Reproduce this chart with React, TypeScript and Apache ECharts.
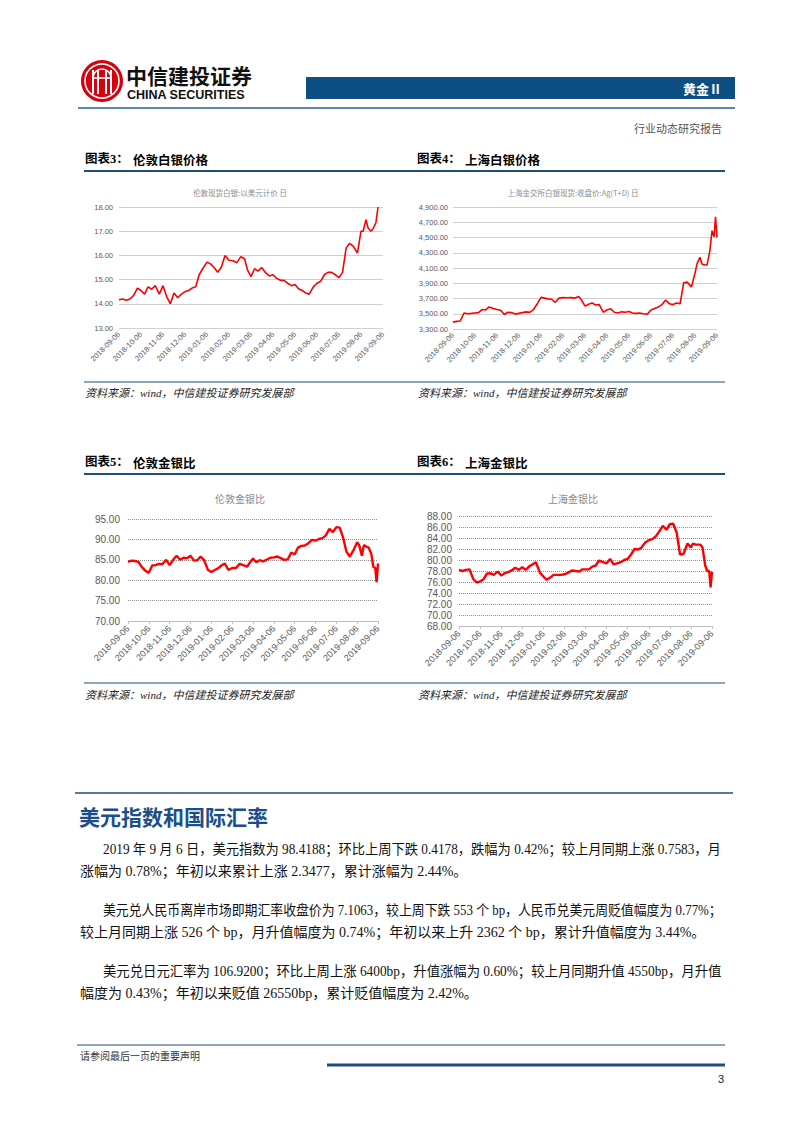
import React, { useEffect, useRef } from "react";
import * as echarts from "echarts";

// ---------- data ----------
const tickLabels = [
  "2018-09-06", "2018-10-06", "2018-11-06", "2018-12-06", "2019-01-06", "2019-02-06", "2019-03-06",
  "2019-04-06", "2019-05-06", "2019-06-06", "2019-07-06", "2019-08-06", "2019-09-06",
];

const dates = [
  "2018-09-06", "2018-09-11", "2018-09-16", "2018-09-21", "2018-09-26", "2018-10-01",
  "2018-10-06", "2018-10-11", "2018-10-16", "2018-10-21", "2018-10-26", "2018-11-01",
  "2018-11-06", "2018-11-11", "2018-11-16", "2018-11-21", "2018-11-26", "2018-12-01",
  "2018-12-06", "2018-12-11", "2018-12-16", "2018-12-21", "2018-12-26", "2019-01-01",
  "2019-01-06", "2019-01-11", "2019-01-16", "2019-01-21", "2019-01-26", "2019-02-01",
  "2019-02-06", "2019-02-11", "2019-02-16", "2019-02-21", "2019-02-26", "2019-03-01",
  "2019-03-06", "2019-03-11", "2019-03-16", "2019-03-21", "2019-03-26", "2019-04-01",
  "2019-04-06", "2019-04-11", "2019-04-16", "2019-04-21", "2019-04-26", "2019-05-01",
  "2019-05-06", "2019-05-11", "2019-05-16", "2019-05-21", "2019-05-26", "2019-06-01",
  "2019-06-06", "2019-06-11", "2019-06-16", "2019-06-21", "2019-06-26", "2019-07-01",
  "2019-07-06", "2019-07-11", "2019-07-16", "2019-07-21", "2019-07-26", "2019-08-01",
  "2019-08-06", "2019-08-09", "2019-08-13", "2019-08-16", "2019-08-20", "2019-08-23",
  "2019-08-27", "2019-08-30", "2019-09-02", "2019-09-04", "2019-09-06",
];

// 伦敦现货白银 (USD)
const londonSilver = [
  14.17, 14.2, 14.15, 14.2, 14.35, 14.65,
  14.55, 14.4, 14.7, 14.6, 14.75, 14.4,
  14.75, 14.3, 14.0, 14.45, 14.25, 14.4,
  14.5, 14.55, 14.65, 14.7, 15.2, 15.5,
  15.72, 15.65, 15.5, 15.3, 15.5, 16.0,
  15.8, 15.78, 15.7, 15.95, 15.85, 15.4,
  15.12, 15.45, 15.35, 15.5, 15.3, 15.15,
  15.2, 15.05, 14.97, 14.97, 14.85, 14.75,
  14.8, 14.62, 14.55, 14.45, 14.4, 14.7,
  14.85, 14.93, 15.2, 15.3, 15.3, 15.2,
  15.08, 15.3, 16.3, 16.5, 16.38, 16.1,
  17.0, 17.0, 17.48, 17.13, 17.0, 17.1,
  17.35, 18.0, null, null, null,
];

// 上海金交所白银现货 Ag(T+D)
const shanghaiSilver = [
  3390, 3400, 3405, 3510, 3500, 3505,
  3510, 3515, 3555, 3550, 3590, 3570,
  3555, 3545, 3490, 3520, 3515, 3495,
  3505, 3515, 3525, 3518, 3550, 3635,
  3715, 3705, 3695, 3690, 3650, 3705,
  3712, 3710, 3712, 3705, 3725, 3680,
  3600, 3625, 3640, 3615, 3620, 3520,
  3550, 3565, 3520, 3510, 3525, 3520,
  3530, 3510, 3505, 3510, 3500, 3495,
  3550, 3570, 3590, 3620, 3680, 3630,
  3620, 3640, 3630, 3905, 3915, 3850,
  4030, 4160, 4240, 4150, 4140, 4140,
  4330, 4590, 4510, 4770, 4500,
];

// 伦敦金银比
const londonRatio = [
  84.5, 84.8, 84.7, 84.5, 83.2, 82.3,
  81.8, 83.6, 83.7, 84.0, 83.9, 85.0,
  83.7, 85.0, 86.0, 85.0, 85.5, 85.4,
  86.0, 84.8, 84.9, 85.8, 85.0, 82.5,
  82.0, 82.5, 82.9, 83.6, 84.1, 82.5,
  83.0, 83.0, 84.0, 83.7, 83.3, 84.2,
  85.3, 84.4, 84.9, 84.6, 85.0, 85.5,
  85.6, 85.8, 85.4, 85.0, 85.1, 86.8,
  86.3, 88.0, 88.4, 88.5, 89.0, 89.9,
  89.7, 90.1, 90.3, 91.0, 92.6, 91.8,
  93.0, 92.9, 90.5, 87.0, 85.8, 87.5,
  89.3, 88.6, 86.0, 88.6, 88.2, 88.0,
  86.5, 83.3, 83.0, 79.5, 84.1,
];

// 上海金银比
const shanghaiRatio = [
  78.2, 78.0, 78.2, 78.3, 76.6, 75.9,
  76.1, 76.5, 77.5, 77.6, 77.3, 77.9,
  77.2, 77.6, 77.8, 78.1, 78.6, 78.2,
  78.7, 78.2, 78.8, 79.2, 79.6, 77.7,
  77.0, 76.4, 76.8, 77.3, 77.3, 77.3,
  77.4, 77.7, 78.1, 78.0, 77.9, 78.3,
  78.3, 78.3, 78.8, 79.0, 79.9, 79.6,
  79.4, 80.2, 79.2, 79.4, 79.6, 80.0,
  80.2, 81.0, 82.0, 81.9, 82.2, 83.2,
  83.6, 83.8, 84.3, 85.2, 86.2, 85.5,
  86.5, 86.6, 85.0, 81.0, 81.1, 83.0,
  82.3, 83.0, 82.8, 82.8, 82.8, 82.3,
  79.0, 78.0, 78.0, 75.0, 77.9,
];

const paragraphLines = [
  "2019 年 9 月 6 日，美元指数为 98.4188；环比上周下跌 0.4178，跌幅为 0.42%；较上月同期上涨 0.7583，月",
  "涨幅为 0.78%；年初以来累计上涨 2.3477，累计涨幅为 2.44%。",
  "美元兑人民币离岸市场即期汇率收盘价为 7.1063，较上周下跌 553 个 bp，人民币兑美元周贬值幅度为 0.77%；",
  "较上月同期上涨 526 个 bp，月升值幅度为 0.74%；年初以来上升 2362 个 bp，累计升值幅度为 3.44%。",
  "美元兑日元汇率为 106.9200；环比上周上涨 6400bp，升值涨幅为 0.60%；较上月同期升值 4550bp，月升值",
  "幅度为 0.43%；年初以来贬值 26550bp，累计贬值幅度为 2.42%。",
];

// ---------- helpers ----------
function monthPos(d: string): number {
  const [y, m, day] = d.split("-").map(Number);
  const base = (y - 2018) * 12 + (m - 9);
  const dim = new Date(y, m, 0).getDate();
  return base + (day - 6) / dim;
}

const SANS = "'Noto Sans CJK SC', 'Liberation Sans', sans-serif";
const SERIF = "'Liberation Serif', 'Noto Sans CJK SC', serif";
const ARIAL = "'Liberation Sans', Arial, sans-serif";
const BLUE = "#1f4e79";
const RED = "#ff0000";

const fmt2 = (v: number) => v.toFixed(2);
const fmtK = (v: number) =>
  v.toLocaleString("en-US", { minimumFractionDigits: 2, maximumFractionDigits: 2 });

function measure(text: string, font: string): number {
  const c = document.createElement("canvas");
  const ctx = c.getContext("2d");
  if (!ctx) return 0;
  ctx.font = font;
  return ctx.measureText(text).width;
}

const panels = [
  { values: londonSilver, left: 119, top: 207, width: 264, height: 121, min: 13, max: 18, interval: 1, fmt: fmt2, yFont: 7.5, xFont: 7.5, yMargin: 6, xMargin: 5, lw: 1.6, dotted: false, ticks: false },
  { values: shanghaiSilver, left: 453, top: 207, width: 264, height: 122, min: 3300, max: 4900, interval: 200, fmt: fmtK, yFont: 7.5, xFont: 7.5, yMargin: 5, xMargin: 5, lw: 1.6, dotted: false, ticks: false },
  { values: londonRatio, left: 128, top: 519, width: 250, height: 102, min: 70, max: 95, interval: 5, fmt: fmt2, yFont: 10, xFont: 9, yMargin: 8, xMargin: 6, lw: 2.4, dotted: true, ticks: true },
  { values: shanghaiRatio, left: 459, top: 516, width: 253, height: 110, min: 68, max: 88, interval: 2, fmt: fmt2, yFont: 10, xFont: 9, yMargin: 7, xMargin: 6, lw: 2.4, dotted: true, ticks: true },
];

function buildGraphics() {
  const g: any[] = [];
  const txt = (text: string, x: number, y: number, o: any = {}) =>
    g.push({
      type: "text", x, y, silent: true, scaleX: o.scaleX ?? 1,
      style: {
        text, fill: o.fill ?? "#000", fontSize: o.size ?? 12, fontWeight: o.weight ?? "normal",
        fontFamily: o.family ?? SANS, fontStyle: o.fontStyle ?? "normal",
        align: o.align ?? "left", verticalAlign: "middle",
      },
    });
  const line = (x1: number, y1: number, x2: number, y2: number, w: number, c: string) =>
    g.push({ type: "line", silent: true, shape: { x1, y1, x2, y2 }, style: { stroke: c, lineWidth: w } });

  // logo
  const cx = 102, cy = 81;
  g.push({ type: "circle", silent: true, shape: { cx, cy, r: 21 }, style: { fill: "#d7000f" } });
  g.push({ type: "circle", silent: true, shape: { cx, cy, r: 17 }, style: { fill: "none", stroke: "#fff", lineWidth: 1.6 } });
  [-9, -4, 4, 9].forEach((dx) => line(cx + dx, cy - 11, cx + dx, cy + 13, 2, "#fff"));
  line(cx - 9, cy - 3, cx + 9, cy - 3, 1.6, "#fff");
  g.push({ type: "arc", silent: true, shape: { cx, cy: cy - 3, r: 9, startAngle: Math.PI, endAngle: 0, clockwise: true }, style: { fill: "none", stroke: "#fff", lineWidth: 1.6 } });

  txt("中信建投证券", 126, 75, { size: 21, weight: "bold", fill: "#111" });
  txt("CHINA SECURITIES", 127, 95, { size: 12.5, weight: "bold", family: ARIAL, fill: "#111" });

  // header bar
  g.push({ type: "rect", silent: true, shape: { x: 306, y: 77, width: 429, height: 22 }, style: { fill: "#0d4f82" } });
  txt("黄金Ⅱ", 722, 88, { size: 13, weight: "bold", fill: "#fff", align: "right" });
  line(78, 108, 735, 108, 1.5, "#2f5f8f");
  txt("行业动态研究报告", 722, 128, { size: 11, fill: "#555", align: "right" });

  // chart titles
  const titles = [
    { x: 85, y: 159, a: "图表3：", b: "伦敦白银价格" },
    { x: 417, y: 159, a: "图表4：", b: "上海白银价格" },
    { x: 85, y: 462, a: "图表5：", b: "伦敦金银比" },
    { x: 417, y: 462, a: "图表6：", b: "上海金银比" },
  ];
  titles.forEach((t) => {
    txt(t.a, t.x, t.y, { size: 12.5, weight: "bold", family: SERIF });
    txt(t.b, t.x + 48, t.y, { size: 12.5, weight: "bold" });
  });
  line(84, 171, 725, 171, 2, BLUE);
  line(84, 474, 725, 474, 2, BLUE);
  line(84, 382, 725, 382, 1, BLUE);
  line(84, 683, 725, 683, 1, BLUE);
  const src = "资料来源：wind，中信建投证券研究发展部";
  [[85, 393], [418, 393], [85, 695], [418, 695]].forEach(([x, y]) =>
    txt(src, x, y, { size: 11, fontStyle: "italic", family: SERIF, fill: "#222" })
  );

  // chart subtitles
  txt("伦敦现货白银:以美元计价 日", 240, 192, { size: 7.5, fill: "#8c8c8c", align: "center" });
  txt("上海金交所白银现货:收盘价:Ag(T+D) 日", 573, 192, { size: 7.5, fill: "#8c8c8c", align: "center" });
  txt("伦敦金银比", 240, 498, { size: 10, fill: "#8c8c8c", align: "center" });
  txt("上海金银比", 573, 498, { size: 10, fill: "#8c8c8c", align: "center" });

  // section
  line(75, 793, 733, 793, 1.5, BLUE);
  txt("美元指数和国际汇率", 79, 816, { size: 21, weight: "bold", fill: "#1b4f8a" });
  const ys = [849, 871, 910, 932, 971, 993];
  const pSize = 14;
  const pFont = `${pSize}px ${SERIF}`;
  paragraphLines.forEach((s, i) => {
    const first = i % 2 === 0;
    const x = first ? 103 : 80;
    let scaleX = 1;
    if (first) {
      const w = measure(s, pFont);
      if (w > 0) scaleX = 619 / w;
    }
    txt(s, x, ys[i], { size: pSize, family: SERIF, fill: "#111", scaleX });
  });

  // footer
  line(77, 1045, 725, 1045, 1, BLUE);
  txt("请参阅最后一页的重要声明", 80, 1055, { size: 10, fill: "#333" });
  line(327, 1065, 725, 1065, 3, BLUE);
  txt("3", 724, 1079, { size: 11, family: ARIAL, fill: "#222", align: "right" });
  return g;
}

export default function App() {
  const ref = useRef<HTMLDivElement>(null);
  useEffect(() => {
    if (!ref.current) return;
    const chart = echarts.init(ref.current, undefined, { renderer: "svg", width: 802, height: 1133 });
    const option: any = {
      animation: false,
      backgroundColor: "#fff",
      grid: panels.map((p) => ({ left: p.left, top: p.top, width: p.width, height: p.height })),
      xAxis: panels.map((p, i) => ({
        type: "value", gridIndex: i, min: 0, max: 12, interval: 1,
        axisLine: { show: p.ticks, lineStyle: { color: "#bfbfbf" } },
        axisTick: { show: p.ticks, length: 3, lineStyle: { color: "#bfbfbf" } },
        splitLine: { show: false },
        axisLabel: {
          rotate: 45, fontSize: p.xFont, color: "#595959", margin: p.xMargin, fontFamily: ARIAL,
          showMinLabel: true, showMaxLabel: true,
          formatter: (v: number) => tickLabels[Math.round(v)] ?? "",
        },
      })),
      yAxis: panels.map((p, i) => ({
        type: "value", gridIndex: i, min: p.min, max: p.max, interval: p.interval,
        axisLine: { show: false }, axisTick: { show: false },
        splitLine: { show: true, lineStyle: p.dotted ? { color: "#8c8c8c", type: "dotted", width: 1 } : { color: "#d0d0d0", width: 1 } },
        axisLabel: { fontSize: p.yFont, color: "#595959", margin: p.yMargin, fontFamily: ARIAL, formatter: p.fmt },
      })),
      series: panels.map((p, i) => ({
        type: "line", xAxisIndex: i, yAxisIndex: i, silent: true, showSymbol: false, symbol: "none",
        lineStyle: { color: RED, width: p.lw },
        data: dates
          .map((d, k) => [monthPos(d), p.values[k]])
          .filter((pt) => pt[1] !== null && pt[1] !== undefined),
      })),
      graphic: { elements: buildGraphics() },
    };
    chart.setOption(option);
    return () => chart.dispose();
  }, []);
  return (
    <div
      ref={ref}
      style={{ position: "absolute", left: 0, top: 0, width: 802, height: 1133, background: "#fff" }}
    />
  );
}
